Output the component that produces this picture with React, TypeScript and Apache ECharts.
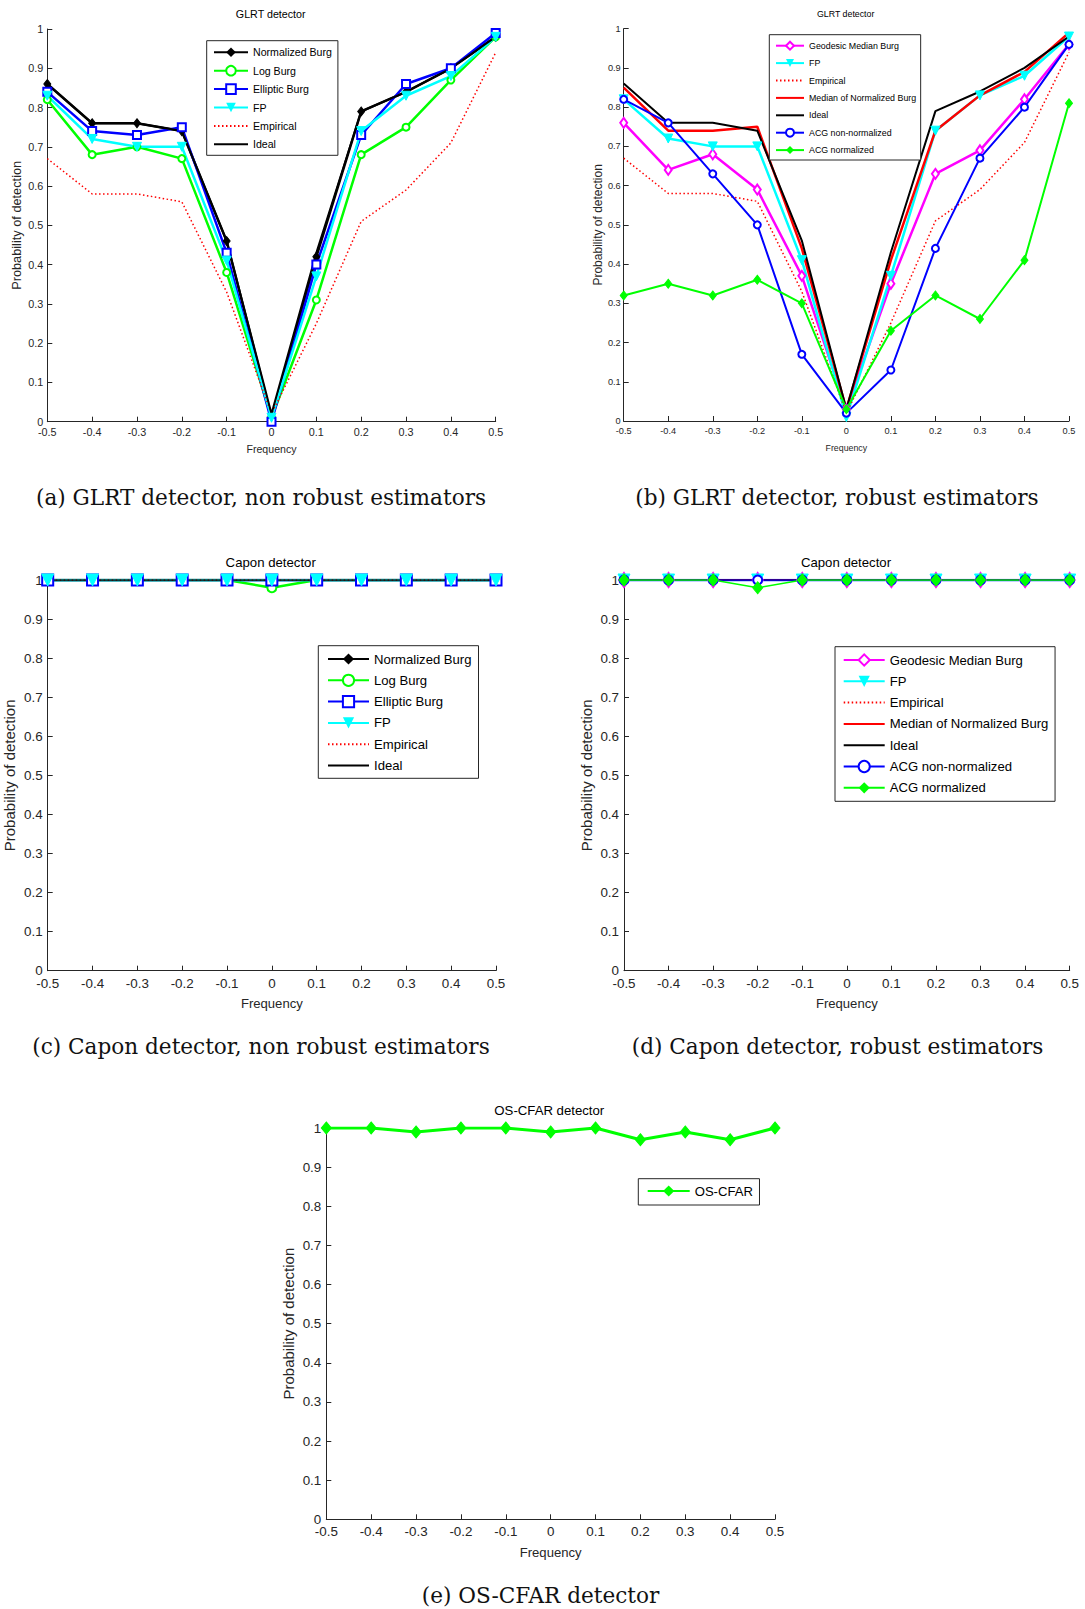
import React, { useEffect, useRef } from "react";
import * as echarts from "echarts";

// ---------------- data ----------------
const frequency = [-0.5, -0.4, -0.3, -0.2, -0.1, 0, 0.1, 0.2, 0.3, 0.4, 0.5];

// (a) GLRT detector, non robust estimators
const aNormalizedBurg = [0.86, 0.76, 0.76, 0.74, 0.46, 0.01, 0.42, 0.79, 0.84, 0.9, 0.98];
const aLogBurg = [0.82, 0.68, 0.7, 0.67, 0.38, 0.01, 0.31, 0.68, 0.75, 0.87, 0.98];
const aEllipticBurg = [0.84, 0.74, 0.73, 0.75, 0.43, 0.0, 0.4, 0.73, 0.86, 0.9, 0.99];
const aFP = [0.83, 0.72, 0.7, 0.7, 0.41, 0.01, 0.37, 0.74, 0.83, 0.88, 0.98];
const aEmpirical = [0.67, 0.58, 0.58, 0.56, 0.33, 0.02, 0.25, 0.51, 0.59, 0.71, 0.94];
const aIdeal = [0.86, 0.76, 0.76, 0.74, 0.46, 0.02, 0.43, 0.79, 0.84, 0.9, 0.98];

// (b) GLRT detector, robust estimators
const bGeodesicMedianBurg = [0.76, 0.64, 0.68, 0.59, 0.37, 0.03, 0.35, 0.63, 0.69, 0.82, 0.96];
const bFP = [0.82, 0.72, 0.7, 0.7, 0.41, 0.01, 0.37, 0.74, 0.83, 0.88, 0.98];
const bEmpirical = [0.67, 0.58, 0.58, 0.56, 0.33, 0.02, 0.25, 0.51, 0.59, 0.71, 0.94];
const bMedianNormalizedBurg = [0.85, 0.74, 0.74, 0.75, 0.44, 0.03, 0.41, 0.74, 0.83, 0.89, 0.99];
const bIdeal = [0.86, 0.76, 0.76, 0.74, 0.46, 0.03, 0.43, 0.79, 0.84, 0.9, 0.98];
const bACGNonNormalized = [0.82, 0.76, 0.63, 0.5, 0.17, 0.02, 0.13, 0.44, 0.67, 0.8, 0.96];
const bACGNormalized = [0.32, 0.35, 0.32, 0.36, 0.3, 0.03, 0.23, 0.32, 0.26, 0.41, 0.81];

// (c) Capon detector, non robust estimators
const cNormalizedBurg = [1, 1, 1, 1, 1, 1, 1, 1, 1, 1, 1];
const cLogBurg = [1, 1, 1, 1, 1, 0.98, 1, 1, 1, 1, 1];
const cEllipticBurg = [1, 1, 1, 1, 1, 1, 1, 1, 1, 1, 1];
const cFP = [1, 1, 1, 1, 1, 1, 1, 1, 1, 1, 1];
const cEmpirical = [1, 1, 1, 1, 1, 1, 1, 1, 1, 1, 1];
const cIdeal = [1, 1, 1, 1, 1, 1, 1, 1, 1, 1, 1];

// (d) Capon detector, robust estimators
const dGeodesicMedianBurg = [1, 1, 1, 1, 1, 1, 1, 1, 1, 1, 1];
const dFP = [1, 1, 1, 1, 1, 1, 1, 1, 1, 1, 1];
const dEmpirical = [1, 1, 1, 1, 1, 1, 1, 1, 1, 1, 1];
const dMedianNormalizedBurg = [1, 1, 1, 1, 1, 1, 1, 1, 1, 1, 1];
const dIdeal = [1, 1, 1, 1, 1, 1, 1, 1, 1, 1, 1];
const dACGNonNormalized = [1, 1, 1, 1, 1, 1, 1, 1, 1, 1, 1];
const dACGNormalized = [1, 1, 1, 0.98, 1, 1, 1, 1, 1, 1, 1];

// (e) OS-CFAR detector
const eOSCFAR = [1, 1, 0.99, 1, 1, 0.99, 1, 0.97, 0.99, 0.97, 1];

const panelTitles = ["GLRT detector", "GLRT detector", "Capon detector", "Capon detector", "OS-CFAR detector"];
const captions = [
  "(a) GLRT detector, non robust estimators",
  "(b) GLRT detector, robust estimators",
  "(c) Capon detector, non robust estimators",
  "(d) Capon detector, robust estimators",
  "(e) OS-CFAR detector",
];
const xAxisName = "Frequency";
const yAxisName = "Probability of detection";

// ---------------- style ----------------
const SANS = "'Liberation Sans', Arial, Helvetica, sans-serif";
const SERIF = "'DejaVu Serif', serif";
const AXIS = "#262626";

const BLACK = "#000000";
const GREEN = "#00ff00";
const BLUE = "#0000ff";
const CYAN = "#00ffff";
const RED = "#ff0000";
const MAGENTA = "#ff00ff";

type Panel = {
  left: number; top: number; width: number; height: number;
  tick: number; xName: number; yName: number; title: number;
  titleX: number; titleY: number;
  xNameGap: number; yNameGap: number; xLabelMargin: number; yLabelMargin: number;
};

const panels: Panel[] = [
  { left: 47.3, top: 29, width: 448.4, height: 392.7, tick: 10.8, xName: 10.6, yName: 12.75, title: 10.7, titleX: 270.7, titleY: 14, xNameGap: 22, yNameGap: 24, xLabelMargin: 5, yLabelMargin: 4 },
  { left: 623.7, top: 28.7, width: 445.3, height: 392.3, tick: 9.2, xName: 8.8, yName: 12, title: 8.8, titleX: 845.7, titleY: 14.3, xNameGap: 22, yNameGap: 19.5, xLabelMargin: 5, yLabelMargin: 3 },
  { left: 47.7, top: 580, width: 448.3, height: 390.7, tick: 13.4, xName: 13.1, yName: 15, title: 13.2, titleX: 270.7, titleY: 562, xNameGap: 26, yNameGap: 31, xLabelMargin: 6, yLabelMargin: 5 },
  { left: 624, top: 580, width: 445.7, height: 390.7, tick: 13.4, xName: 13.1, yName: 15, title: 13.2, titleX: 846, titleY: 562, xNameGap: 26, yNameGap: 30, xLabelMargin: 6, yLabelMargin: 5 },
  { left: 326.3, top: 1128, width: 448.7, height: 391.3, tick: 13.4, xName: 13.1, yName: 15, title: 13.2, titleX: 549.3, titleY: 1110.7, xNameGap: 26.5, yNameGap: 30.5, xLabelMargin: 6, yLabelMargin: 5 },
];

const captionPos = [
  { x: 261, y: 497 },
  { x: 837, y: 497 },
  { x: 261, y: 1046 },
  { x: 837.6, y: 1046 },
  { x: 540.5, y: 1595 },
];

const pts = (ys: number[]) => frequency.map((f, i) => [f, ys[i]]);

type LineOpts = {
  symbol?: string;
  size?: number | number[];
  rotate?: number;
  width?: number;
  dotted?: boolean;
};

function lineSeries(name: string, g: number, ys: number[], color: string, o: LineOpts = {}) {
  const symbol = o.symbol || "none";
  return {
    type: "line",
    name,
    xAxisIndex: g,
    yAxisIndex: g,
    data: pts(ys),
    symbol,
    symbolSize: o.size || 8,
    symbolRotate: o.rotate || 0,
    showSymbol: symbol !== "none",
    showAllSymbol: true,
    lineStyle: { color, width: o.width || 2, type: o.dotted ? [1.5, 2.5] : "solid" },
    itemStyle: { color, borderColor: color },
    emphasis: { disabled: true },
    silent: true,
    animation: false,
  };
}

function legendBox(
  names: string[], noMarker: string[], left: number, top: number,
  itemWidth: number, itemHeight: number, itemGap: number, padding: number[], fontSize: number,
) {
  return {
    orient: "vertical",
    left,
    top,
    itemWidth,
    itemHeight,
    itemGap,
    padding,
    borderColor: AXIS,
    borderWidth: 1,
    backgroundColor: "#ffffff",
    selectedMode: false,
    textStyle: { fontFamily: SANS, fontSize, color: "#000", lineHeight: itemHeight },
    data: names.map((n) => (noMarker.indexOf(n) >= 0 ? { name: n, itemStyle: { opacity: 0 } } : { name: n })),
  };
}

function buildOption() {
  const grid = panels.map((p) => ({ left: p.left, top: p.top, width: p.width, height: p.height, containLabel: false }));
  const xAxis = panels.map((p, i) => ({
    gridIndex: i,
    type: "value",
    min: -0.5,
    max: 0.5,
    interval: 0.1,
    name: xAxisName,
    nameLocation: "middle",
    nameGap: p.xNameGap,
    nameTextStyle: { fontFamily: SANS, fontSize: p.xName, color: AXIS },
    axisLine: { onZero: false, lineStyle: { color: AXIS, width: 1 } },
    axisTick: { inside: true, length: 5, lineStyle: { color: AXIS } },
    axisLabel: { fontFamily: SANS, fontSize: p.tick, color: AXIS, margin: p.xLabelMargin },
    splitLine: { show: false },
  }));
  const yAxis = panels.map((p, i) => ({
    gridIndex: i,
    type: "value",
    min: 0,
    max: 1,
    interval: 0.1,
    name: yAxisName,
    nameLocation: "middle",
    nameRotate: 90,
    nameGap: p.yNameGap,
    nameTextStyle: { fontFamily: SANS, fontSize: p.yName, color: AXIS },
    axisLine: { onZero: false, lineStyle: { color: AXIS, width: 1 } },
    axisTick: { inside: true, length: 5, lineStyle: { color: AXIS } },
    axisLabel: { fontFamily: SANS, fontSize: p.tick, color: AXIS, margin: p.yLabelMargin },
    splitLine: { show: false },
  }));

  const series = [
    // (a)
    lineSeries("Normalized Burg", 0, aNormalizedBurg, BLACK, { symbol: "diamond", size: [7, 9], width: 2.5 }),
    lineSeries("Log Burg", 0, aLogBurg, GREEN, { symbol: "emptyCircle", size: 7, width: 2.5 }),
    lineSeries("Elliptic Burg", 0, aEllipticBurg, BLUE, { symbol: "emptyRect", size: 8, width: 2.5 }),
    lineSeries("FP", 0, aFP, CYAN, { symbol: "triangle", size: 9, rotate: 180, width: 2.5 }),
    lineSeries("Empirical", 0, aEmpirical, RED, { dotted: true, width: 1.5 }),
    lineSeries("Ideal", 0, aIdeal, BLACK, { width: 2 }),
    // (b)
    lineSeries("Geodesic Median Burg", 1, bGeodesicMedianBurg, MAGENTA, { symbol: "emptyDiamond", size: [7, 10], width: 2.5 }),
    lineSeries("FP", 1, bFP, CYAN, { symbol: "triangle", size: 9, rotate: 180, width: 2.5 }),
    lineSeries("Empirical", 1, bEmpirical, RED, { dotted: true, width: 1.5 }),
    lineSeries("Median of Normalized Burg", 1, bMedianNormalizedBurg, RED, { width: 2.5 }),
    lineSeries("Ideal", 1, bIdeal, BLACK, { width: 2 }),
    lineSeries("ACG non-normalized", 1, bACGNonNormalized, BLUE, { symbol: "emptyCircle", size: 7, width: 2 }),
    lineSeries("ACG normalized", 1, bACGNormalized, GREEN, { symbol: "diamond", size: [7, 9], width: 2 }),
    // (c)
    lineSeries("Normalized Burg", 2, cNormalizedBurg, BLACK, { symbol: "diamond", size: [8, 10], width: 2.5 }),
    lineSeries("Log Burg", 2, cLogBurg, GREEN, { symbol: "emptyCircle", size: 9, width: 2.5 }),
    lineSeries("Elliptic Burg", 2, cEllipticBurg, BLUE, { symbol: "emptyRect", size: 11, width: 2.5 }),
    lineSeries("FP", 2, cFP, CYAN, { symbol: "triangle", size: 12, rotate: 180, width: 2.5 }),
    lineSeries("Empirical", 2, cEmpirical, RED, { dotted: true, width: 1.5 }),
    lineSeries("Ideal", 2, cIdeal, BLACK, { width: 1.5 }),
    // (d)
    lineSeries("Geodesic Median Burg", 3, dGeodesicMedianBurg, MAGENTA, { symbol: "emptyDiamond", size: [10, 14], width: 2.5 }),
    lineSeries("FP", 3, dFP, CYAN, { symbol: "triangle", size: 12, rotate: 180, width: 2.5 }),
    lineSeries("Empirical", 3, dEmpirical, RED, { dotted: true, width: 1.5 }),
    lineSeries("Median of Normalized Burg", 3, dMedianNormalizedBurg, RED, { width: 2 }),
    lineSeries("Ideal", 3, dIdeal, BLACK, { width: 1.5 }),
    lineSeries("ACG non-normalized", 3, dACGNonNormalized, BLUE, { symbol: "emptyCircle", size: 9, width: 1.5 }),
    lineSeries("ACG normalized", 3, dACGNormalized, GREEN, { symbol: "diamond", size: [10, 12], width: 1.5 }),
    // (e)
    lineSeries("OS-CFAR", 4, eOSCFAR, GREEN, { symbol: "diamond", size: [10, 12], width: 3 }),
  ];

  const legend = [
    legendBox(["Normalized Burg", "Log Burg", "Elliptic Burg", "FP", "Empirical", "Ideal"], ["Empirical", "Ideal"],
      206.7, 40.7, 34, 12, 6.4, [5.6, 6, 5, 6.3], 10.6),
    legendBox(["Geodesic Median Burg", "FP", "Empirical", "Median of Normalized Burg", "Ideal", "ACG non-normalized", "ACG normalized"],
      ["Empirical", "Median of Normalized Burg", "Ideal"], 769.3, 34.7, 28, 10, 7.4, [6, 4.5, 4.9, 5.7], 8.85),
    legendBox(["Normalized Burg", "Log Burg", "Elliptic Burg", "FP", "Empirical", "Ideal"], ["Empirical", "Ideal"],
      318.3, 645.7, 41, 14, 7.3, [6.3, 7, 5.8, 8.7], 13.1),
    legendBox(["Geodesic Median Burg", "FP", "Empirical", "Median of Normalized Burg", "Ideal", "ACG non-normalized", "ACG normalized"],
      ["Empirical", "Median of Normalized Burg", "Ideal"], 835, 646.7, 41, 14, 7.3, [6.3, 6.7, 6.5, 7.7], 13.1),
    legendBox(["OS-CFAR"], [], 638.3, 1178.7, 42, 14, 0, [5.3, 6.6, 7, 8.4], 13.1),
  ];

  const graphic: any[] = [];
  panels.forEach((p, i) => {
    graphic.push({
      type: "text",
      x: p.titleX,
      y: p.titleY,
      silent: true,
      style: {
        text: panelTitles[i],
        fontFamily: SANS,
        fontSize: p.title,
        fill: "#000",
        align: "center",
        verticalAlign: "middle",
        textAlign: "center",
        textVerticalAlign: "middle",
      },
    });
  });
  captions.forEach((c, i) => {
    graphic.push({
      type: "text",
      x: captionPos[i].x,
      y: captionPos[i].y,
      silent: true,
      style: {
        text: c,
        fontFamily: SERIF,
        fontSize: 21.6,
        fill: "#111",
        align: "center",
        verticalAlign: "middle",
        textAlign: "center",
        textVerticalAlign: "middle",
      },
    });
  });

  return {
    animation: false,
    backgroundColor: "#ffffff",
    grid,
    xAxis,
    yAxis,
    series,
    legend,
    graphic,
  };
}

export default function App() {
  const ref = useRef<HTMLDivElement>(null);
  useEffect(() => {
    if (!ref.current) return;
    const chart = echarts.init(ref.current, undefined, { renderer: "svg" });
    chart.setOption(buildOption() as any);
    return () => chart.dispose();
  }, []);
  return (
    <div
      ref={ref}
      style={{ position: "absolute", left: 0, top: 0, width: 1085, height: 1609, background: "#fff" }}
    />
  );
}
